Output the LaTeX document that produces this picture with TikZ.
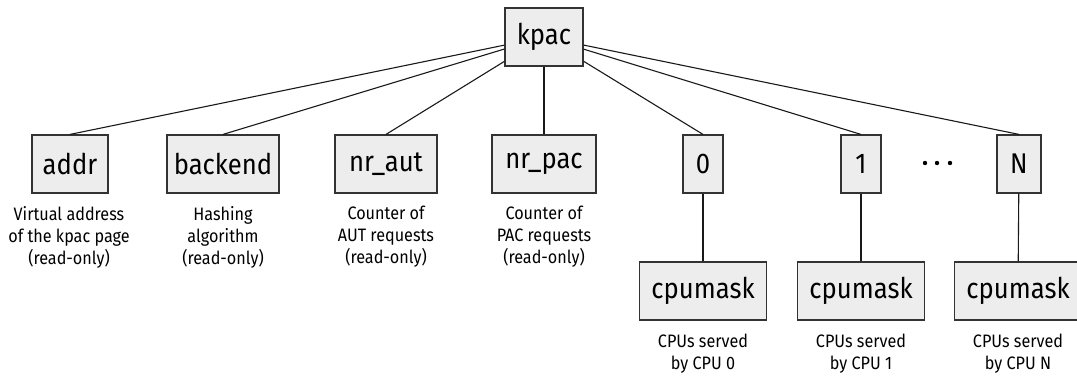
\documentclass[tikz,border=0pt]{standalone}
\usepackage{fontspec}
\setmainfont[FakeStretch=0.9]{Fira Sans}
\begin{document}
\begin{tikzpicture}[x=1pt,y=-1pt,
  box/.style={draw=black!80, fill=black!7, line width=1.2pt, font=\fontsize{28.5}{33}\selectfont, inner sep=0pt, minimum height=58pt},
  lbl/.style={font=\fontsize{18}{22}\selectfont, align=center, anchor=north, inner sep=0pt},
  edge/.style={line width=1.1pt, draw=black!90}]
\useasboundingbox (0,0) rectangle (1077,376);
\node[box, minimum width=78pt] (kpac) at (544,37) {kpac};
\node[box, minimum width=76pt] (addr) at (70,164) {addr};
\node[box, minimum width=112pt] (backend) at (223,164) {backend};
\node[box, minimum width=102pt] (nraut) at (386,164) {nr\_aut};
\node[box, minimum width=104pt] (nrpac) at (544,164) {nr\_pac};
\node[box, minimum width=40pt] (n0) at (703,164) {0};
\node[box, minimum width=40pt] (n1) at (861,164) {1};
\node[box, minimum width=44pt] (nN) at (1019,164) {N};
\node[box, minimum width=127pt] (c0) at (703,291) {cpumask};
\node[box, minimum width=127pt] (c1) at (861,291) {cpumask};
\node[box, minimum width=127pt] (cN) at (1018,291) {cpumask};
\foreach \x in {925,937,950} \fill (\x,163) circle (2.2pt);
\node[lbl] (laddr) at (69,206) {Virtual address\\of the kpac page\\(read-only)};
\node[lbl] (lbackend) at (223,206) {Hashing\\algorithm\\(read-only)};
\node[lbl] (lnraut) at (386,206) {Counter of\\AUT requests\\(read-only)};
\node[lbl] (lnrpac) at (544,206) {Counter of\\PAC requests\\(read-only)};
\node[lbl] (lc0) at (703,334) {CPUs served\\by CPU 0};
\node[lbl] (lc1) at (861,334) {CPUs served\\by CPU 1};
\node[lbl] (lcN) at (1018,334) {CPUs served\\by CPU N};
\foreach \t in {addr,backend,nraut,nrpac,n0,n1,nN} \draw[edge] (kpac) -- (\t.north);
\draw[edge] (n0) -- (c0);
\draw[edge] (n1) -- (c1);
\draw[edge] (nN) -- (cN);
\end{tikzpicture}
\end{document}
